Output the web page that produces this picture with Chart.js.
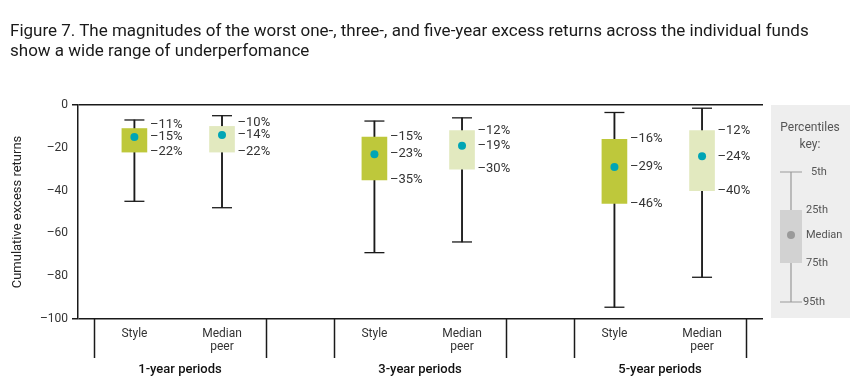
<!DOCTYPE html>
<html>
<head>
<meta charset="utf-8">
<script src="https://cdn.jsdelivr.net/npm/chart.js@4.4.1/dist/chart.umd.min.js"></script>
<style>
  html, body { margin: 0; padding: 0; background: #fff; }
  #wrap { position: relative; width: 850px; height: 388px; }
  #title {
    position: absolute; left: 10px; top: 20px; white-space: nowrap;
    font: 17px Roboto, sans-serif; line-height: 20px; color: #1a1a1a;
  }
  canvas { position: absolute; left: 0; top: 0; }
</style>
</head>
<body>
<div id="wrap">
  <canvas id="chart" width="850" height="388"></canvas>
  <div id="title">Figure 7. The magnitudes of the worst one-, three-, and five-year excess returns across the individual funds<br>show a wide range of underperfomance</div>
</div>
<script>
// Data (cumulative excess returns, %)
const groups = ["1-year periods", "3-year periods", "5-year periods"];
const roles = ["Style", ["Median", "peer"]];

const styleP5 = [-7, -7.5, -3.5];
const styleQ25 = [-11, -15, -16];
const styleMed = [-15, -23, -29];
const styleQ75 = [-22, -35, -46];
const styleP95 = [-45, -69, -94.5];

const peerP5 = [-5, -6, -1.5];
const peerQ25 = [-10, -12, -12];
const peerMed = [-14, -19, -24];
const peerQ75 = [-22, -30, -40];
const peerP95 = [-48, -64, -80.5];

const yTicks = [0, -20, -40, -60, -80, -100];

// Layout helpers
const STYLE_OFF = -0.19;
const PEER_OFF = 0.175;
const DIV_OFF = 0.36;
const BOX_W = 25;

const STYLE_COLOR = "#bec83b";
const PEER_COLOR = "#e2e9bf";
const DOT_COLOR = "#00a5b5";
const INK = "#1a1a1a";

const dash = (v) => (v < 0 ? "\u2013" + Math.abs(v) : String(v));

// Build box records
const boxes = [];
groups.forEach((g, i) => {
  boxes.push({ x: i + 1 + STYLE_OFF, p5: styleP5[i], q25: styleQ25[i], med: styleMed[i], q75: styleQ75[i], p95: styleP95[i], color: STYLE_COLOR });
  boxes.push({ x: i + 1 + PEER_OFF, p5: peerP5[i], q25: peerQ25[i], med: peerMed[i], q75: peerQ75[i], p95: peerP95[i], color: PEER_COLOR });
});

const tickPositions = boxes.map((b) => b.x);
const tickNames = boxes.map((b, i) => roles[i % 2]);

// Value labels next to each box
const valueLabels = {
  id: "valueLabels",
  afterDatasetsDraw(chart) {
    const { ctx, scales } = chart;
    const xs = scales.x, ys = scales.y;
    ctx.save();
    ctx.font = "13px Roboto, sans-serif";
    ctx.fillStyle = "#333";
    ctx.textBaseline = "middle";
    ctx.textAlign = "left";
    boxes.forEach((b) => {
      const lx = xs.getPixelForValue(b.x) + BOX_W / 2 + 3;
      const mid = ys.getPixelForValue(b.med);
      const top = Math.min(ys.getPixelForValue(b.q25), mid - 12);
      const bot = Math.max(ys.getPixelForValue(b.q75), mid + 12);
      ctx.fillText(dash(b.q25) + "%", lx, top);
      ctx.fillText(dash(b.med) + "%", lx, mid);
      ctx.fillText(dash(b.q75) + "%", lx, bot);
    });
    ctx.restore();
  },
};

// Group dividers, group labels and the percentiles key
const extras = {
  id: "extras",
  afterDraw(chart) {
    const { ctx, scales, chartArea } = chart;
    const xs = scales.x;
    ctx.save();
    ctx.strokeStyle = INK;
    ctx.lineWidth = 1.5;
    groups.forEach((g, i) => {
      [i + 1 - DIV_OFF, i + 1 + DIV_OFF].forEach((v) => {
        const px = Math.round(xs.getPixelForValue(v)) + 0.5;
        ctx.beginPath();
        ctx.moveTo(px, chartArea.bottom);
        ctx.lineTo(px, chartArea.bottom + 39);
        ctx.stroke();
      });
      ctx.font = "500 13px Roboto, sans-serif";
      ctx.fillStyle = "#111";
      ctx.textAlign = "center";
      ctx.textBaseline = "middle";
      ctx.fillText(g, xs.getPixelForValue(i + 1), chartArea.bottom + 51);
    });

    // Percentiles key
    ctx.fillStyle = "#eeeeee";
    ctx.fillRect(771, 105, 79, 213);
    ctx.fillStyle = "#555";
    ctx.font = "12px Roboto, sans-serif";
    ctx.textAlign = "center";
    ctx.fillText("Percentiles", 810, 128);
    ctx.fillText("key:", 810, 145);
    ctx.strokeStyle = "#999";
    ctx.lineWidth = 1.2;
    ctx.beginPath();
    ctx.moveTo(791, 172); ctx.lineTo(791, 302);
    ctx.moveTo(780, 172); ctx.lineTo(802, 172);
    ctx.moveTo(780, 302); ctx.lineTo(802, 302);
    ctx.stroke();
    ctx.fillStyle = "#d2d2d2";
    ctx.fillRect(780, 210, 22, 53);
    ctx.fillStyle = "#9a9a9a";
    ctx.beginPath();
    ctx.arc(791, 235, 4, 0, Math.PI * 2);
    ctx.fill();
    ctx.fillStyle = "#555";
    ctx.font = "11px Roboto, sans-serif";
    ctx.textAlign = "left";
    ctx.fillText("5th", 811, 172);
    ctx.fillText("25th", 806, 210);
    ctx.fillText("Median", 806, 235);
    ctx.fillText("75th", 806, 263);
    ctx.fillText("95th", 803, 302);
    ctx.restore();
  },
};

const ctx = document.getElementById("chart").getContext("2d");
new Chart(ctx, {
  type: "bar",
  data: {
    datasets: [
      {
        type: "scatter",
        data: boxes.map((b) => ({ x: b.x, y: b.med })),
        pointStyle: "circle",
        pointRadius: 4,
        backgroundColor: DOT_COLOR,
        borderWidth: 0,
        order: 0,
      },
      {
        type: "bar",
        data: boxes.map((b) => ({ x: b.x, y: [b.q75, b.q25] })),
        backgroundColor: boxes.map((b) => b.color),
        barThickness: BOX_W,
        grouped: false,
        order: 1,
      },
      {
        type: "scatter",
        data: boxes.flatMap((b) => [{ x: b.x, y: b.p5 }, { x: b.x, y: b.p95 }]),
        pointStyle: "line",
        pointRadius: 10,
        borderColor: INK,
        borderWidth: 1.3,
        order: 2,
      },
      {
        type: "bar",
        data: boxes.map((b) => ({ x: b.x, y: [b.p95, b.p5] })),
        backgroundColor: INK,
        barThickness: 1.2,
        grouped: false,
        order: 3,
      },
    ],
  },
  options: {
    responsive: false,
    animation: false,
    events: [],
    layout: { padding: { top: 105, right: 87, left: 0, bottom: 0 } },
    plugins: { legend: { display: false }, tooltip: { enabled: false } },
    scales: {
      x: {
        type: "linear",
        offset: false,
        min: 0.575,
        max: 3.429,
        grid: { display: false, drawTicks: false },
        border: { display: false },
        afterBuildTicks: (scale) => {
          scale.ticks = tickPositions.map((v) => ({ value: v }));
        },
        afterFit: (scale) => { scale.height = 69; },
        ticks: {
          autoSkip: false,
          maxRotation: 0,
          padding: 8,
          color: "#333",
          font: { family: "Roboto", size: 12, lineHeight: 1.1 },
          callback: (v, i) => tickNames[i],
        },
      },
      y: {
        min: -100,
        max: 0,
        afterBuildTicks: (scale) => {
          scale.ticks = yTicks.map((v) => ({ value: v }));
        },
        afterFit: (scale) => { scale.width = 78; },
        grid: {
          color: (c) => (c.tick && (c.tick.value === 0 || c.tick.value === -100) ? INK : "rgba(0,0,0,0)"),
          lineWidth: 1.5,
          tickLength: 6,
        },
        border: { display: true, color: INK, width: 1.5 },
        ticks: {
          padding: 4,
          color: "#333",
          font: { family: "Roboto", size: 12 },
          callback: (v) => dash(v),
        },
        title: {
          display: true,
          text: "Cumulative excess returns",
          color: "#222",
          font: { family: "Roboto", size: 13 },
          padding: { top: 10, bottom: 0 },
        },
      },
    },
  },
  plugins: [valueLabels, extras],
});
</script>
</body>
</html>
